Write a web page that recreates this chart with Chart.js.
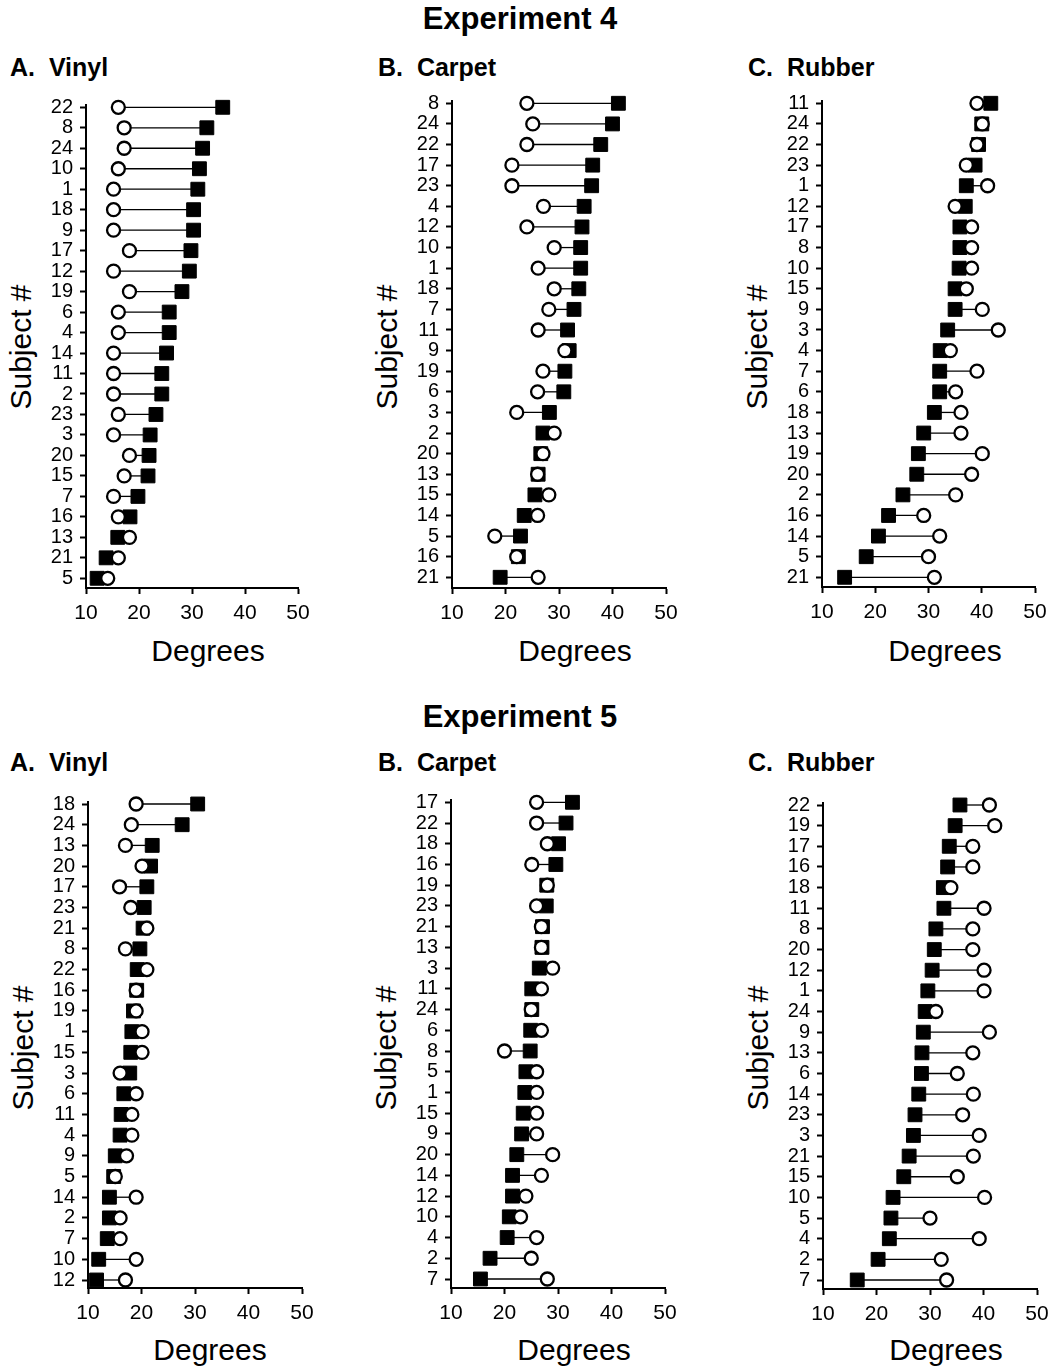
<!DOCTYPE html>
<html>
<head>
<meta charset="utf-8">
<script src="https://cdn.jsdelivr.net/npm/chart.js@4.4.1/dist/chart.umd.min.js"></script>
<style>
  body { margin:0; background:#fff; width:1053px; height:1369px; position:relative; overflow:hidden;
         font-family:"Liberation Sans", Arial, sans-serif; color:#000; }
  .txt { position:absolute; white-space:pre; line-height:1; }
  .head { font-weight:bold; font-size:31px; width:400px; text-align:center; }
  .panel { font-weight:bold; font-size:25px; }
  .xt { font-size:30px; width:200px; text-align:center; }
  .yt { font-size:30px; width:200px; height:30px; text-align:center; transform:rotate(-90deg); }
</style>
</head>
<body>
<div class="txt head" style="left:320px;top:3px">Experiment 4</div>
<div class="txt panel" style="left:10px;top:55px">A.  Vinyl</div>
<div class="txt panel" style="left:378px;top:55px">B.  Carpet</div>
<div class="txt panel" style="left:748px;top:55px">C.  Rubber</div>
<div class="txt xt" style="left:108px;top:636px">Degrees</div>
<div class="txt xt" style="left:475px;top:636px">Degrees</div>
<div class="txt xt" style="left:845px;top:636px">Degrees</div>
<div class="txt yt" style="left:-79px;top:332px">Subject #</div>
<div class="txt yt" style="left:287px;top:332px">Subject #</div>
<div class="txt yt" style="left:657px;top:332px">Subject #</div>

<div class="txt head" style="left:320px;top:701px">Experiment 5</div>
<div class="txt panel" style="left:10px;top:750px">A.  Vinyl</div>
<div class="txt panel" style="left:378px;top:750px">B.  Carpet</div>
<div class="txt panel" style="left:748px;top:750px">C.  Rubber</div>
<div class="txt xt" style="left:110px;top:1335px">Degrees</div>
<div class="txt xt" style="left:474px;top:1335px">Degrees</div>
<div class="txt xt" style="left:846px;top:1335px">Degrees</div>
<div class="txt yt" style="left:-77px;top:1033px">Subject #</div>
<div class="txt yt" style="left:286px;top:1033px">Subject #</div>
<div class="txt yt" style="left:658px;top:1033px">Subject #</div>

<script>
// Experiment 4 - Vinyl
const e4VinylSubjects = ['22','8','24','10','1','18','9','17','12','19','6','4','14','11','2','23','3','20','15','7','16','13','21','5'];
const e4VinylOpen   = [16.1,17.2,17.2,16.1,15.2,15.2,15.2,18.2,15.2,18.2,16.1,16.1,15.2,15.2,15.2,16.1,15.2,18.2,17.2,15.2,16.1,18.2,16.1,14.1];
const e4VinylFilled = [35.8,32.8,32.0,31.4,31.1,30.3,30.3,29.8,29.5,28.1,25.7,25.7,25.2,24.3,24.3,23.2,22.1,21.9,21.7,19.8,18.3,16.0,13.8,12.1];

// Experiment 4 - Carpet
const e4CarpetSubjects = ['8','24','22','17','23','4','12','10','1','18','7','11','9','19','6','3','2','20','13','15','14','5','16','21'];
const e4CarpetOpen   = [24.0,25.1,24.0,21.2,21.2,27.1,24.0,29.1,26.1,29.1,28.1,26.1,31.1,27.0,26.0,22.1,29.1,27.0,26.0,28.1,26.0,18.0,22.1,26.1];
const e4CarpetFilled = [41.1,40.0,37.8,36.3,36.1,34.7,34.3,34.05,34.05,33.7,32.8,31.6,31.9,31.1,30.9,28.2,27.0,26.6,26.1,25.5,23.5,22.8,22.4,19.0];

// Experiment 4 - Rubber
const e4RubberSubjects = ['11','24','22','23','1','12','17','8','10','15','9','3','4','7','6','18','13','19','20','2','16','14','5','21'];
const e4RubberOpen   = [39.1,40.1,39.1,37.1,41.1,35.0,38.1,38.1,38.1,37.1,40.1,43.1,34.1,39.1,35.1,36.1,36.1,40.1,38.1,35.1,29.1,32.1,30.0,31.1];
const e4RubberFilled = [41.7,40.0,39.4,38.75,37.1,36.9,35.9,35.9,35.75,35.0,35.0,33.6,32.2,32.1,32.1,31.1,29.1,28.1,27.8,25.2,22.5,20.6,18.3,14.25];

// Experiment 5 - Vinyl
const e5VinylSubjects = ['18','24','13','20','17','23','21','8','22','16','19','1','15','3','6','11','4','9','5','14','2','7','10','12'];
const e5VinylOpen   = [19.0,18.1,17.0,20.1,15.9,18.0,21.0,17.0,21.0,19.0,19.0,20.1,20.1,16.0,19.0,18.2,18.2,17.2,15.1,19.0,16.0,16.0,19.0,17.0];
const e5VinylFilled = [30.5,27.6,22.0,21.7,21.0,20.5,20.3,19.7,19.2,19.1,18.5,18.2,18.0,17.8,16.7,16.2,16.0,15.1,14.8,14.0,14.0,13.6,12.0,11.6];

// Experiment 5 - Carpet
const e5CarpetSubjects = ['17','22','18','16','19','23','21','13','3','11','24','6','8','5','1','15','9','20','14','12','10','4','2','7'];
const e5CarpetOpen   = [26.0,26.0,28.0,25.1,28.0,26.0,26.9,26.9,29.0,26.9,25.0,26.9,20.0,26.0,26.0,26.0,26.0,29.0,26.9,24.0,23.0,26.0,25.0,28.0];
const e5CarpetFilled = [32.7,31.5,30.1,29.6,27.9,27.8,27.1,27.0,26.5,25.1,25.1,24.9,24.8,24.0,23.8,23.5,23.2,22.3,21.5,21.5,20.9,20.5,17.3,15.5];

// Experiment 5 - Rubber
const e5RubberSubjects = ['22','19','17','16','18','11','8','20','12','1','24','9','13','6','14','23','3','21','15','10','5','4','2','7'];
const e5RubberOpen   = [41.1,42.1,38.0,38.0,33.9,40.1,38.0,38.0,40.1,40.1,31.1,41.1,38.0,35.1,38.1,36.1,39.2,38.1,35.1,40.2,30.0,39.2,32.1,33.1];
const e5RubberFilled = [35.6,34.7,33.6,33.3,32.5,32.6,31.1,30.8,30.4,29.6,29.1,28.75,28.5,28.4,27.9,27.2,26.9,26.1,25.1,23.1,22.7,22.4,20.3,16.4];

const xTicks = [10, 20, 30, 40, 50];

const FONT = '"Liberation Sans", Arial, sans-serif';

// where each panel's plot sits on the page (px)
const panels = [
  {labels: e4VinylSubjects,  open: e4VinylOpen,  filled: e4VinylFilled,  left: 86,  right: 298,  rowTop: 107.3, rowBottom: 578.3, axisY: 588},
  {labels: e4CarpetSubjects, open: e4CarpetOpen, filled: e4CarpetFilled, left: 452, right: 666,  rowTop: 103.3, rowBottom: 577.3, axisY: 588},
  {labels: e4RubberSubjects, open: e4RubberOpen, filled: e4RubberFilled, left: 822, right: 1035, rowTop: 103.3, rowBottom: 577.3, axisY: 587},
  {labels: e5VinylSubjects,  open: e5VinylOpen,  filled: e5VinylFilled,  left: 88,  right: 302,  rowTop: 804,   rowBottom: 1280,  axisY: 1288},
  {labels: e5CarpetSubjects, open: e5CarpetOpen, filled: e5CarpetFilled, left: 451, right: 665,  rowTop: 802.3, rowBottom: 1279,  axisY: 1288},
  {labels: e5RubberSubjects, open: e5RubberOpen, filled: e5RubberFilled, left: 823, right: 1037, rowTop: 805,   rowBottom: 1280,  axisY: 1289}
];

function makePanel(p) {
  const yW = 86, xH = 40, padTop = 20, padRight = 25;
  const T = Math.round(p.rowTop - 2), B = p.axisY;
  const step = (p.rowBottom - p.rowTop) / (p.labels.length - 1);
  const yMin = -(p.rowTop - T) / step;
  const yMax = (p.labels.length - 1) + (B - p.rowBottom) / step;
  const cw = yW + (p.right - p.left) + padRight;
  const ch = padTop + (B - T) + xH;

  const canvas = document.createElement('canvas');
  canvas.width = cw;
  canvas.height = ch;
  canvas.style.cssText = 'position:absolute;left:' + (p.left - yW) + 'px;top:' + (T - padTop) + 'px;width:' + cw + 'px;height:' + ch + 'px';
  document.body.appendChild(canvas);

  // one thin line per subject joining its two points
  const datasets = p.labels.map((s, i) => ({
    type: 'line',
    data: [{x: p.open[i], y: i}, {x: p.filled[i], y: i}],
    borderColor: '#000',
    borderWidth: 1.3,
    pointRadius: 0,
    pointHoverRadius: 0,
    fill: false,
    order: 3
  }));
  datasets.push({
    data: p.filled.map((v, i) => ({x: v, y: i})),
    pointStyle: 'rect',
    pointRadius: 9.8,
    pointHoverRadius: 9.8,
    backgroundColor: '#000',
    borderColor: '#000',
    borderWidth: 1,
    order: 2
  });
  datasets.push({
    data: p.open.map((v, i) => ({x: v, y: i})),
    pointStyle: 'circle',
    pointRadius: 6.5,
    pointHoverRadius: 6.5,
    backgroundColor: '#fff',
    borderColor: '#000',
    borderWidth: 2.3,
    order: 1
  });

  new Chart(canvas, {
    type: 'scatter',
    data: {datasets: datasets},
    options: {
      responsive: false,
      animation: false,
      clip: false,
      layout: {padding: {top: padTop, right: padRight, left: 0, bottom: 0}},
      plugins: {legend: {display: false}, tooltip: {enabled: false}},
      scales: {
        x: {
          type: 'linear',
          min: xTicks[0],
          max: xTicks[xTicks.length - 1],
          afterBuildTicks: s => { s.ticks = xTicks.map(v => ({value: v})); },
          afterFit: s => { s.height = xH; },
          ticks: {color: '#000', font: {family: FONT, size: 21}, padding: 7, maxRotation: 0},
          grid: {drawOnChartArea: false, drawTicks: true, tickLength: 6, tickWidth: 2, tickColor: '#000'},
          border: {display: true, color: '#000', width: 2}
        },
        y: {
          type: 'linear',
          reverse: true,
          min: yMin,
          max: yMax,
          afterBuildTicks: s => { s.ticks = p.labels.map((l, i) => ({value: i})); },
          afterFit: s => { s.width = yW; },
          ticks: {
            autoSkip: false,
            color: '#000',
            font: {family: FONT, size: 20},
            padding: 7,
            callback: (v, i) => p.labels[i]
          },
          grid: {drawOnChartArea: false, drawTicks: true, tickLength: 6, tickWidth: 2, tickColor: '#000'},
          border: {display: true, color: '#000', width: 2}
        }
      }
    }
  });
}

panels.forEach(makePanel);
</script>
</body>
</html>
